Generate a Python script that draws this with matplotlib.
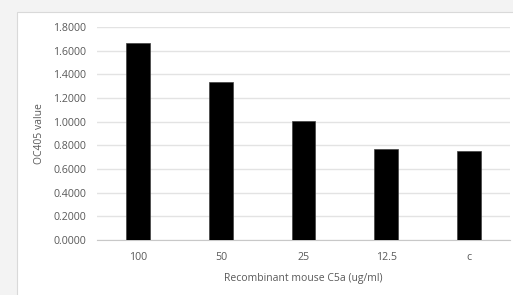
import matplotlib.pyplot as plt
from matplotlib.patches import Rectangle

# data
categories = ['100', '50', '25', '12.5', 'c']
values = [1.668, 1.338, 1.002, 0.770, 0.755]
yticks = [0.0, 0.2, 0.4, 0.6, 0.8, 1.0, 1.2, 1.4, 1.6, 1.8]

plt.rcParams['font.family'] = ['Open Sans', 'DejaVu Sans']

fig = plt.figure(figsize=(5.13, 2.95), dpi=100)
fig.patch.set_facecolor('#f3f3f3')
# white chart box
fig.patches.append(Rectangle((17 / 513, -0.01), 1.0, 1 - 12 / 295 + 0.01,
                             transform=fig.transFigure, facecolor='white',
                             edgecolor='#d9d9d9', linewidth=0.8, zorder=-10))

ax = fig.add_axes([97 / 513, 1 - 240 / 295, 413 / 513, 213 / 295])
ax.set_facecolor('none')
x = range(len(categories))
ax.bar(x, values, width=0.29, color='black', edgecolor='#404040', linewidth=0.5, zorder=3)
ax.set_xlim(-0.5, len(categories) - 0.5)
ax.set_ylim(0, 1.8)
ax.set_yticks(yticks)
ax.set_yticklabels(['%.4f' % v for v in yticks])
ax.set_xticks(list(x))
ax.set_xticklabels(categories)
ax.grid(axis='y', color='#e3e3e3', linewidth=1, zorder=0)
for s in ['top', 'right', 'left']:
    ax.spines[s].set_visible(False)
ax.spines['bottom'].set_color('#c8c8c8')
ax.tick_params(axis='both', length=0, labelsize=7.7, colors='#595959')
ax.tick_params(axis='x', pad=9)
ax.tick_params(axis='y', pad=8)
ax.set_xlabel('Recombinant mouse C5a (ug/ml)', fontsize=7.5, color='#595959', labelpad=7)
ax.set_ylabel('OC405 value', fontsize=7.5, color='#595959', labelpad=6)

fig.savefig('out.png', dpi=100, facecolor=fig.get_facecolor())
